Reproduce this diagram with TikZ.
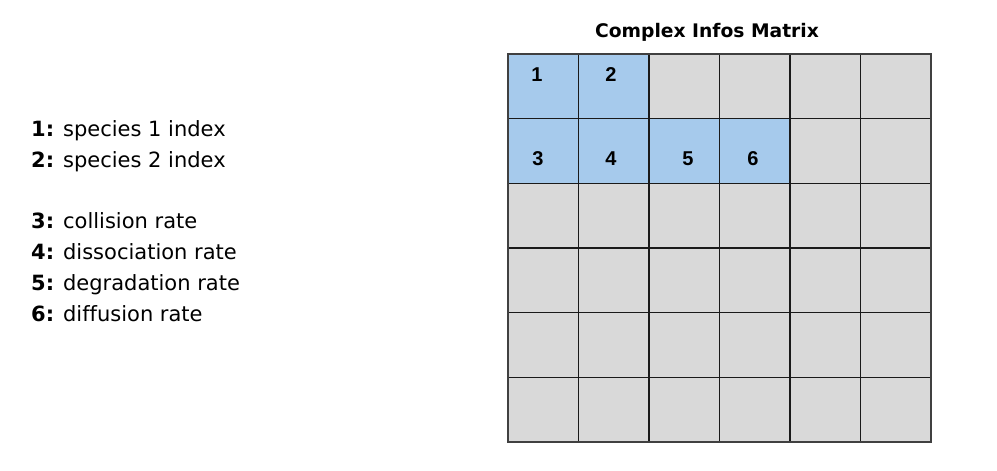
\documentclass[tikz,border=0pt]{standalone}
\usepackage{fontspec}
\setmainfont[Ligatures=NoCommon]{DejaVu Sans}
\newfontfamily\cellfont{Liberation Sans}
\definecolor{cellblue}{HTML}{A6CAEC}
\definecolor{cellgray}{HTML}{D9D9D9}
\definecolor{gridline}{HTML}{1A1A1A}
\begin{document}
\begin{tikzpicture}[x=1pt, y=-1pt,
   cell/.style={draw=gridline, line width=1.6pt},
   cellnum/.style={anchor=base, font=\cellfont\bfseries\fontsize{20}{22}\selectfont},
   legend/.style={anchor=base west, inner sep=0pt, font=\fontsize{21}{24}\selectfont}]
   \useasboundingbox (0,0) rectangle (997,471);
   \node[anchor=base, font=\bfseries\fontsize{18.7}{21}\selectfont] (title) at (707,37) {Complex Infos Matrix};
   % matrix cells
   \foreach \r in {0,...,5}
     \foreach \c in {0,...,5}
       \draw[cell, fill=cellgray] (508+70.5*\c, 54+64.67*\r) rectangle ++(70.5,64.67);
   \foreach \r/\c in {0/0, 0/1, 1/0, 1/1, 1/2, 1/3}
     \draw[cell, fill=cellblue] (508+70.5*\c, 54+64.67*\r) rectangle ++(70.5,64.67);
   \draw[line width=2.2pt, draw=black!75] (508,54) rectangle (931,442);
   \node[cellnum] (n1) at (537,81) {1};
   \node[cellnum] (n2) at (611,81) {2};
   \node[cellnum] (n3) at (538,165) {3};
   \node[cellnum] (n4) at (611,165) {4};
   \node[cellnum] (n5) at (688,165) {5};
   \node[cellnum] (n6) at (753,165) {6};
   % legend
   \node[legend] (l1) at (31,136) {\textbf{1:} species 1 index};
   \node[legend] (l2) at (31,167) {\textbf{2:} species 2 index};
   \node[legend] (l3) at (31,228) {\textbf{3:} collision rate};
   \node[legend] (l4) at (31,259) {\textbf{4:} dissociation rate};
   \node[legend] (l5) at (31,290) {\textbf{5:} degradation rate};
   \node[legend] (l6) at (31,321) {\textbf{6:} diffusion rate};
\end{tikzpicture}
\end{document}
